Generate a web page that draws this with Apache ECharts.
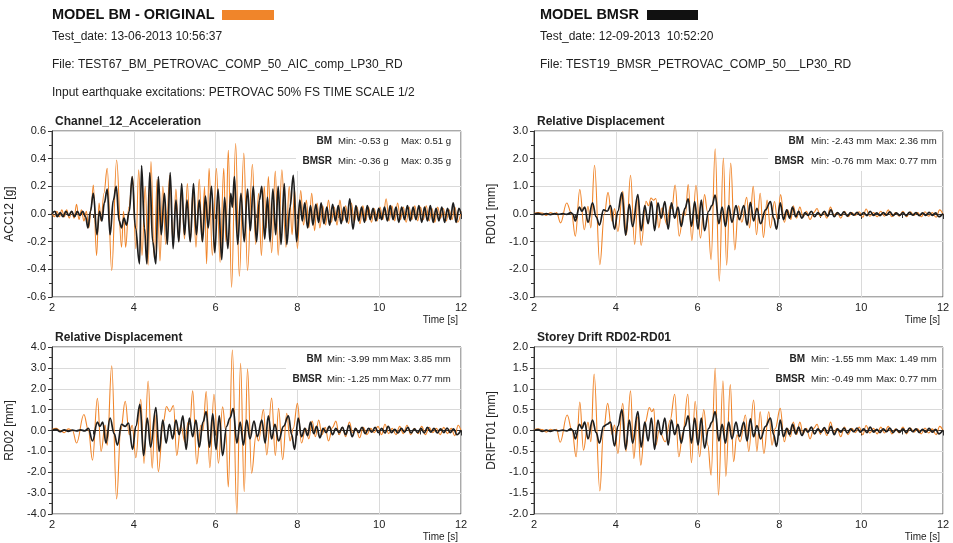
<!DOCTYPE html>
<html>
<head>
<meta charset="utf-8">
<script src="https://cdn.jsdelivr.net/npm/echarts@6/dist/echarts.min.js"></script>
<style>
  html, body { margin: 0; padding: 0; background: #fff; }
  #main { width: 953px; height: 543px; }
</style>
</head>
<body>
<div id="main"></div>
<script>
'use strict'
// turning points [time s, value]
let accBM = [[2.00,0.01],[2.06,-0.02],[2.12,0.02],[2.18,-0.02],[2.24,0.03],[2.30,-0.02],[2.36,0.03],[2.42,-0.03],[2.48,0.02],[2.54,-0.03],[2.60,0.07],[2.66,-0.04],[2.72,0.03],[2.78,-0.05],[2.84,0.02],[2.90,-0.10],[2.96,0.05],[3.01,0.21],[3.09,-0.30],[3.15,0.08],[3.20,-0.05],[3.27,0.15],[3.35,0.33],[3.46,-0.41],[3.58,0.39],[3.70,-0.24],[3.75,0.02],[3.80,-0.24],[3.88,0.05],[3.97,0.27],[4.05,-0.25],[4.12,0.32],[4.20,-0.30],[4.28,0.20],[4.35,-0.37],[4.42,0.38],[4.50,-0.32],[4.57,0.25],[4.64,-0.34],[4.71,0.20],[4.78,-0.22],[4.88,0.28],[4.96,-0.22],[5.03,0.18],[5.10,-0.20],[5.17,0.15],[5.24,-0.18],[5.31,0.22],[5.38,-0.20],[5.45,0.18],[5.52,-0.24],[5.60,0.25],[5.67,-0.20],[5.73,0.20],[5.78,-0.36],[5.84,0.33],[5.92,-0.30],[6.02,0.33],[6.11,-0.35],[6.20,0.33],[6.25,-0.20],[6.31,0.46],[6.39,-0.53],[6.49,0.51],[6.58,-0.45],[6.69,0.44],[6.78,-0.41],[6.90,0.36],[6.98,-0.22],[7.05,0.15],[7.12,-0.30],[7.19,0.20],[7.24,-0.10],[7.29,0.27],[7.37,-0.28],[7.46,0.31],[7.53,-0.30],[7.62,0.32],[7.72,-0.24],[7.80,0.20],[7.87,-0.15],[7.93,0.18],[8.00,-0.25],[8.08,0.17],[8.15,-0.08],[8.22,0.10],[8.28,-0.10],[8.35,0.15],[8.42,-0.12],[8.48,0.08],[8.55,-0.10],[8.62,0.06],[8.69,-0.08],[8.76,0.10],[8.83,-0.06],[8.90,0.05],[8.97,-0.08],[9.04,0.10],[9.11,-0.05],[9.18,0.06],[9.25,-0.07],[9.32,0.08],[9.39,-0.06],[9.46,0.05],[9.53,-0.07],[9.60,0.06],[9.67,-0.05],[9.74,0.05],[9.81,-0.06],[9.88,0.04],[9.95,-0.05],[10.02,0.05],[10.09,-0.04],[10.17,0.11],[10.24,-0.05],[10.31,0.06],[10.38,-0.05],[10.45,0.08],[10.52,-0.04],[10.59,0.05],[10.66,-0.06],[10.73,0.05],[10.80,-0.04],[10.87,0.06],[10.94,-0.05],[11.01,0.05],[11.08,-0.04],[11.15,0.06],[11.22,-0.05],[11.29,0.04],[11.36,-0.06],[11.43,0.05],[11.50,-0.03],[11.57,0.04],[11.64,-0.05],[11.71,0.03],[11.78,-0.04],[11.85,0.05],[11.92,-0.06],[12.00,0.02]];
let accBMSR = [[2.00,0.00],[2.07,0.02],[2.13,-0.02],[2.20,0.01],[2.27,-0.02],[2.34,0.02],[2.41,-0.01],[2.48,0.02],[2.55,-0.02],[2.62,0.02],[2.68,-0.01],[2.75,0.02],[2.82,-0.02],[2.88,-0.10],[2.94,0.02],[3.01,0.15],[3.10,-0.15],[3.16,0.02],[3.22,-0.05],[3.28,0.08],[3.35,0.18],[3.42,-0.15],[3.50,0.10],[3.57,0.20],[3.64,-0.05],[3.70,-0.10],[3.76,-0.03],[3.82,-0.08],[3.89,0.02],[3.96,0.27],[4.04,-0.10],[4.14,-0.36],[4.19,0.35],[4.26,-0.10],[4.32,-0.36],[4.39,0.30],[4.46,-0.20],[4.54,-0.36],[4.60,0.27],[4.67,-0.15],[4.75,0.15],[4.82,-0.22],[4.89,0.30],[4.96,-0.25],[5.03,0.10],[5.10,-0.20],[5.17,0.22],[5.24,-0.15],[5.30,0.10],[5.38,-0.20],[5.46,0.22],[5.53,-0.15],[5.60,0.10],[5.68,-0.20],[5.75,0.13],[5.82,-0.10],[5.90,0.20],[5.98,-0.28],[6.06,0.18],[6.15,-0.33],[6.22,0.12],[6.30,-0.25],[6.37,0.15],[6.41,0.05],[6.46,0.27],[6.54,-0.22],[6.62,0.15],[6.70,-0.20],[6.78,0.18],[6.85,-0.12],[6.92,0.20],[7.00,-0.20],[7.07,0.10],[7.13,0.20],[7.20,-0.18],[7.27,0.12],[7.33,-0.20],[7.40,0.18],[7.47,-0.15],[7.53,0.20],[7.60,-0.22],[7.68,0.22],[7.74,-0.22],[7.82,0.05],[7.90,0.28],[7.98,-0.20],[8.06,0.10],[8.12,-0.05],[8.18,0.08],[8.25,-0.10],[8.32,0.06],[8.38,-0.08],[8.45,0.07],[8.52,-0.06],[8.58,0.08],[8.65,-0.07],[8.72,0.05],[8.79,-0.08],[8.86,0.07],[8.93,-0.05],[9.00,0.06],[9.07,-0.07],[9.14,0.05],[9.21,-0.06],[9.28,0.11],[9.36,-0.11],[9.43,0.06],[9.50,-0.05],[9.57,0.05],[9.64,-0.06],[9.71,0.06],[9.78,-0.04],[9.85,0.04],[9.92,-0.05],[9.99,0.04],[10.06,-0.04],[10.13,0.05],[10.20,-0.05],[10.27,0.06],[10.34,-0.04],[10.41,0.05],[10.48,-0.06],[10.55,0.05],[10.62,-0.04],[10.69,0.06],[10.76,-0.05],[10.83,0.05],[10.90,-0.04],[10.97,0.06],[11.04,-0.06],[11.11,0.05],[11.18,-0.05],[11.25,0.06],[11.32,-0.06],[11.39,0.04],[11.46,-0.05],[11.53,0.05],[11.60,-0.06],[11.67,0.04],[11.74,-0.04],[11.81,0.08],[11.88,-0.06],[11.95,0.04],[12.00,0.00]];

let rd01BM = [[2.00,0.02],[2.10,0.05],[2.20,0.03],[2.30,-0.05],[2.40,0.05],[2.50,0.00],[2.55,0.05],[2.65,-0.32],[2.80,0.40],[2.92,0.00],[3.01,-0.80],[3.12,0.88],[3.23,-0.57],[3.32,0.28],[3.39,-0.50],[3.48,1.76],[3.61,-1.83],[3.72,0.00],[3.81,0.78],[3.91,-0.27],[3.97,0.20],[4.05,-0.63],[4.17,0.82],[4.26,-0.75],[4.36,1.40],[4.46,-1.10],[4.54,0.52],[4.62,-1.13],[4.74,0.46],[4.80,0.30],[4.86,0.58],[4.92,0.50],[4.98,0.56],[5.05,-0.50],[5.13,0.22],[5.25,-0.38],[5.33,0.30],[5.37,0.20],[5.45,1.05],[5.55,-0.80],[5.66,0.10],[5.70,-0.05],[5.77,1.06],[5.86,-0.96],[5.96,1.04],[6.07,-0.87],[6.17,0.70],[6.24,0.10],[6.33,-1.65],[6.43,2.36],[6.53,-2.43],[6.63,2.02],[6.71,-1.85],[6.81,1.84],[6.91,-1.30],[7.00,0.30],[7.08,-0.30],[7.20,0.60],[7.27,-0.50],[7.36,1.00],[7.44,-0.75],[7.53,0.75],[7.61,-0.85],[7.70,0.50],[7.78,-0.50],[7.88,0.45],[7.95,-0.20],[8.03,0.70],[8.12,-0.30],[8.20,0.15],[8.28,-0.20],[8.34,0.30],[8.42,-0.15],[8.50,0.25],[8.58,-0.10],[8.66,0.10],[8.75,-0.20],[8.84,0.05],[8.92,0.20],[9.00,-0.10],[9.08,0.08],[9.16,-0.15],[9.25,0.25],[9.33,-0.05],[9.41,0.05],[9.50,-0.15],[9.59,0.10],[9.68,-0.10],[9.77,0.05],[9.86,-0.05],[9.95,0.08],[10.04,-0.12],[10.12,0.18],[10.21,-0.08],[10.30,0.05],[10.39,-0.10],[10.48,0.10],[10.57,-0.08],[10.66,0.15],[10.75,-0.10],[10.84,0.05],[10.93,-0.08],[11.02,0.10],[11.11,-0.10],[11.20,0.08],[11.29,-0.05],[11.38,0.05],[11.47,-0.10],[11.56,0.08],[11.65,-0.08],[11.74,0.05],[11.83,-0.12],[11.92,0.15],[12.00,-0.02]];
let rd01BMSR = [[2.00,0.00],[2.10,0.02],[2.20,-0.02],[2.30,0.01],[2.40,-0.02],[2.50,0.01],[2.60,-0.01],[2.70,0.01],[2.80,-0.01],[2.90,0.05],[2.95,0.00],[3.01,-0.25],[3.11,0.25],[3.17,0.10],[3.24,0.25],[3.32,-0.30],[3.43,0.40],[3.52,-0.10],[3.60,-0.40],[3.70,0.15],[3.79,0.10],[3.87,0.30],[3.97,-0.55],[4.05,0.10],[4.15,0.77],[4.24,-0.76],[4.33,0.35],[4.41,-0.45],[4.54,0.70],[4.62,-0.60],[4.71,0.30],[4.79,-0.35],[4.87,0.45],[4.95,-0.60],[5.03,0.40],[5.11,-0.15],[5.20,0.45],[5.28,-0.55],[5.36,0.40],[5.44,-0.15],[5.52,0.25],[5.60,-0.45],[5.69,0.20],[5.77,0.55],[5.85,-0.45],[5.93,0.45],[6.01,-0.55],[6.09,0.50],[6.17,-0.60],[6.27,0.10],[6.35,0.30],[6.43,0.68],[6.52,-0.35],[6.60,0.25],[6.68,-0.45],[6.76,0.30],[6.84,-0.30],[6.94,0.30],[7.02,-0.20],[7.13,0.30],[7.21,-0.40],[7.29,0.42],[7.37,-0.25],[7.45,0.20],[7.54,-0.35],[7.66,0.15],[7.78,0.45],[7.86,-0.15],[7.93,-0.55],[8.02,0.40],[8.10,-0.20],[8.18,0.15],[8.25,-0.15],[8.32,0.25],[8.40,-0.10],[8.47,0.10],[8.55,-0.15],[8.63,0.05],[8.70,-0.05],[8.78,0.10],[8.86,-0.10],[8.94,0.05],[9.02,-0.05],[9.10,0.10],[9.18,-0.08],[9.26,0.15],[9.34,-0.10],[9.42,0.05],[9.50,-0.05],[9.58,0.08],[9.66,-0.08],[9.74,0.05],[9.82,-0.04],[9.90,0.06],[9.98,-0.05],[10.06,0.05],[10.14,-0.06],[10.22,0.10],[10.30,-0.05],[10.38,0.04],[10.46,-0.06],[10.54,0.05],[10.62,-0.04],[10.70,0.08],[10.78,-0.06],[10.86,0.04],[10.94,-0.05],[11.02,0.05],[11.10,-0.06],[11.18,0.06],[11.26,-0.04],[11.34,0.05],[11.42,-0.06],[11.50,0.04],[11.58,-0.05],[11.66,0.06],[11.74,-0.05],[11.82,0.04],[11.90,-0.10],[12.00,0.02]];

let rd02BM = [[2.00,0.05],[2.10,0.10],[2.20,0.00],[2.30,-0.10],[2.40,0.08],[2.50,0.00],[2.60,-0.60],[2.78,0.77],[2.89,0.00],[2.99,-1.42],[3.11,1.54],[3.20,-1.00],[3.30,0.26],[3.35,-0.70],[3.46,3.10],[3.58,-3.28],[3.68,0.00],[3.79,1.40],[3.89,-0.20],[3.96,0.25],[4.05,-1.30],[4.17,1.50],[4.25,-1.58],[4.35,2.37],[4.45,-1.80],[4.52,0.75],[4.60,-1.97],[4.72,0.40],[4.80,1.15],[4.88,0.90],[4.97,1.20],[5.05,-1.20],[5.15,0.25],[5.25,-0.55],[5.33,0.40],[5.37,0.30],[5.44,1.90],[5.54,-1.60],[5.64,0.25],[5.69,0.00],[5.77,1.86],[5.86,-1.78],[5.96,1.73],[6.07,-1.57],[6.17,1.14],[6.25,0.00],[6.31,-2.70],[6.41,3.85],[6.52,-3.99],[6.61,3.22],[6.70,-2.93],[6.78,2.95],[6.88,-2.05],[6.99,-0.20],[7.05,-0.50],[7.17,1.00],[7.25,-1.17],[7.37,1.55],[7.46,-1.20],[7.54,1.06],[7.64,-1.40],[7.74,0.82],[7.82,-0.50],[7.90,0.10],[8.00,1.30],[8.10,-0.60],[8.20,0.10],[8.28,-0.40],[8.36,0.45],[8.44,-0.30],[8.52,0.50],[8.60,-0.20],[8.68,0.15],[8.76,-0.50],[8.86,0.15],[8.94,0.45],[9.02,-0.20],[9.10,0.15],[9.18,-0.30],[9.27,0.40],[9.35,-0.10],[9.43,0.10],[9.52,-0.35],[9.61,0.15],[9.70,-0.20],[9.79,0.10],[9.88,-0.10],[9.97,0.20],[10.06,-0.20],[10.14,0.30],[10.23,-0.15],[10.32,0.10],[10.41,-0.20],[10.50,0.20],[10.59,-0.15],[10.68,0.25],[10.77,-0.20],[10.86,0.10],[10.95,-0.15],[11.04,0.20],[11.13,-0.20],[11.22,0.15],[11.31,-0.10],[11.40,0.10],[11.49,-0.20],[11.58,0.15],[11.67,-0.15],[11.76,0.10],[11.85,-0.25],[11.93,0.25],[12.00,0.00]];
let rd02BMSR = [[2.00,0.00],[2.10,0.05],[2.20,-0.05],[2.30,0.03],[2.40,-0.04],[2.50,0.02],[2.60,-0.02],[2.70,0.03],[2.80,-0.02],[2.89,0.10],[2.99,-0.50],[3.11,0.40],[3.17,0.20],[3.24,0.40],[3.32,-0.60],[3.42,0.60],[3.52,-0.15],[3.60,-0.70],[3.70,0.30],[3.79,0.20],[3.87,0.35],[3.97,-0.90],[4.05,0.20],[4.15,1.25],[4.24,-1.20],[4.33,0.60],[4.41,-0.80],[4.54,1.10],[4.62,-1.00],[4.71,0.50],[4.79,-0.60],[4.87,0.30],[4.95,-0.40],[5.03,0.50],[5.11,-0.20],[5.20,0.70],[5.28,-0.90],[5.36,0.60],[5.44,-0.30],[5.52,0.50],[5.60,-0.80],[5.69,0.40],[5.77,0.90],[5.85,-0.80],[5.93,0.80],[6.01,-0.90],[6.09,0.70],[6.17,-1.20],[6.27,0.20],[6.35,0.60],[6.43,1.05],[6.52,-0.60],[6.60,0.40],[6.68,-0.70],[6.76,0.50],[6.84,-0.40],[6.94,0.45],[7.02,-0.30],[7.13,0.50],[7.21,-0.60],[7.29,0.70],[7.37,-0.40],[7.45,0.30],[7.54,-0.50],[7.66,0.20],[7.78,0.70],[7.86,-0.20],[7.93,-0.90],[8.02,0.60],[8.10,-0.30],[8.18,0.10],[8.25,-0.25],[8.32,0.40],[8.40,-0.15],[8.47,0.20],[8.55,-0.35],[8.63,0.10],[8.70,-0.10],[8.78,0.20],[8.86,-0.20],[8.94,0.10],[9.02,-0.10],[9.10,0.15],[9.18,-0.20],[9.26,0.25],[9.34,-0.30],[9.42,0.10],[9.50,-0.10],[9.58,0.15],[9.66,-0.15],[9.74,0.10],[9.82,-0.08],[9.90,0.15],[9.98,-0.10],[10.06,0.10],[10.14,-0.12],[10.22,0.20],[10.30,-0.10],[10.38,0.05],[10.46,-0.12],[10.54,0.10],[10.62,-0.08],[10.70,0.15],[10.78,-0.12],[10.86,0.08],[10.94,-0.10],[11.02,0.10],[11.10,-0.12],[11.18,0.15],[11.26,-0.08],[11.34,0.10],[11.42,-0.12],[11.50,0.08],[11.58,-0.10],[11.66,0.12],[11.74,-0.10],[11.82,0.08],[11.90,-0.20],[12.00,0.02]];

let driftBM = [[2.00,0.02],[2.10,0.04],[2.20,0.02],[2.30,-0.04],[2.40,0.03],[2.50,0.00],[2.55,0.03],[2.64,-0.28],[2.81,0.37],[2.93,0.00],[3.03,-0.63],[3.12,0.68],[3.21,-0.47],[3.32,0.20],[3.39,-0.27],[3.47,1.35],[3.61,-1.45],[3.70,0.00],[3.80,0.65],[3.91,-0.10],[3.97,0.13],[4.05,-0.55],[4.17,0.65],[4.25,-0.50],[4.36,0.95],[4.44,-0.67],[4.53,0.33],[4.61,-0.83],[4.72,0.20],[4.82,0.55],[4.88,0.45],[4.93,0.52],[4.98,-0.35],[5.06,0.00],[5.21,-0.27],[5.33,0.25],[5.44,0.87],[5.54,-0.63],[5.64,-0.05],[5.76,0.87],[5.85,-0.77],[5.94,0.70],[6.05,-0.63],[6.15,0.50],[6.25,-0.35],[6.33,-1.07],[6.43,1.49],[6.51,-1.55],[6.62,1.19],[6.69,-1.10],[6.80,1.10],[6.88,-0.75],[6.96,-0.10],[7.04,-0.27],[7.17,0.37],[7.25,-0.50],[7.37,0.73],[7.45,-0.50],[7.53,0.45],[7.62,-0.55],[7.74,0.45],[7.82,-0.35],[7.90,0.05],[8.02,0.53],[8.12,-0.27],[8.20,0.05],[8.27,-0.15],[8.34,0.20],[8.42,-0.10],[8.50,0.20],[8.58,-0.08],[8.66,0.05],[8.75,-0.20],[8.84,0.05],[8.92,0.15],[9.00,-0.08],[9.08,0.05],[9.16,-0.12],[9.25,0.20],[9.33,-0.05],[9.41,0.05],[9.50,-0.15],[9.59,0.08],[9.68,-0.10],[9.77,0.05],[9.86,-0.05],[9.95,0.08],[10.04,-0.10],[10.12,0.12],[10.21,-0.06],[10.30,0.05],[10.39,-0.08],[10.48,0.08],[10.57,-0.06],[10.66,0.10],[10.75,-0.08],[10.84,0.04],[10.93,-0.06],[11.02,0.08],[11.11,-0.08],[11.20,0.06],[11.29,-0.04],[11.38,0.04],[11.47,-0.08],[11.56,0.06],[11.65,-0.06],[11.74,0.04],[11.83,-0.10],[11.92,0.10],[12.00,0.00]];
let driftBMSR = [[2.00,0.00],[2.10,0.02],[2.20,-0.02],[2.30,0.01],[2.40,-0.02],[2.50,0.01],[2.60,-0.01],[2.70,0.01],[2.80,-0.01],[2.90,0.04],[2.95,0.00],[3.01,-0.20],[3.11,0.15],[3.17,0.05],[3.24,0.20],[3.32,-0.20],[3.43,0.25],[3.52,-0.05],[3.60,-0.30],[3.70,0.10],[3.79,0.15],[3.87,0.20],[3.97,-0.37],[4.05,0.10],[4.15,0.50],[4.24,-0.45],[4.33,0.25],[4.41,-0.30],[4.54,0.45],[4.62,-0.40],[4.71,0.20],[4.79,-0.25],[4.87,0.30],[4.95,-0.45],[5.03,0.25],[5.11,-0.10],[5.20,0.30],[5.28,-0.35],[5.36,0.25],[5.44,-0.10],[5.52,0.15],[5.60,-0.30],[5.69,0.10],[5.77,0.35],[5.85,-0.30],[5.93,0.30],[6.01,-0.35],[6.09,0.30],[6.17,-0.42],[6.27,0.05],[6.35,0.20],[6.43,0.45],[6.52,-0.25],[6.60,0.15],[6.68,-0.30],[6.76,0.20],[6.84,-0.20],[6.94,0.20],[7.02,-0.15],[7.13,0.20],[7.21,-0.25],[7.29,0.28],[7.37,-0.15],[7.45,0.12],[7.54,-0.20],[7.66,0.10],[7.78,0.30],[7.86,-0.10],[7.93,-0.38],[8.02,0.25],[8.10,-0.15],[8.18,0.05],[8.25,-0.10],[8.32,0.15],[8.40,-0.08],[8.47,0.08],[8.55,-0.12],[8.63,0.04],[8.70,-0.04],[8.78,0.08],[8.86,-0.08],[8.94,0.04],[9.02,-0.04],[9.10,0.07],[9.18,-0.07],[9.26,0.10],[9.34,-0.10],[9.42,0.04],[9.50,-0.04],[9.58,0.06],[9.66,-0.06],[9.74,0.04],[9.82,-0.03],[9.90,0.06],[9.98,-0.04],[10.06,0.04],[10.14,-0.05],[10.22,0.08],[10.30,-0.04],[10.38,0.03],[10.46,-0.05],[10.54,0.04],[10.62,-0.03],[10.70,0.06],[10.78,-0.05],[10.86,0.03],[10.94,-0.04],[11.02,0.04],[11.10,-0.05],[11.18,0.06],[11.26,-0.03],[11.34,0.04],[11.42,-0.05],[11.50,0.03],[11.58,-0.04],[11.66,0.05],[11.74,-0.04],[11.82,0.03],[11.90,-0.08],[12.00,0.01]];

let panelTitles = ['Channel_12_Acceleration', 'Relative Displacement', 'Relative Displacement', 'Storey Drift RD02-RD01'];
let yNames = ['ACC12 [g]', 'RD01 [mm]', 'RD02 [mm]', 'DRIFT01 [mm]'];
let yMin = [-0.6, -3, -4, -2];
let yMax = [0.6, 3, 4, 2];
let yStep = [0.2, 1, 1, 0.5];
let bmStats = [['-0.53 g', '0.51 g'], ['-2.43 mm', '2.36 mm'], ['-3.99 mm', '3.85 mm'], ['-1.55 mm', '1.49 mm']];
let bmsrStats = [['-0.36 g', '0.35 g'], ['-0.76 mm', '0.77 mm'], ['-1.25 mm', '0.77 mm'], ['-0.49 mm', '0.77 mm']];

const ORANGE = '#f0852a', BLACK = '#1e1e1e';
const FONT = '"Liberation Sans", Arial, sans-serif';
let grids = [
	{left: 52, top: 131, width: 409, height: 166},
	{left: 534, top: 131, width: 409, height: 166},
	{left: 52, top: 347, width: 409, height: 167},
	{left: 534, top: 347, width: 409, height: 167}
];
// stats block placement: name right edge, "Min" x, "Max" x, first row offset
let statPos = [
	{name: 332, min: 338, max: 401, dy: 10},
	{name: 804, min: 811, max: 876, dy: 10},
	{name: 322, min: 327, max: 390, dy: 12},
	{name: 805, min: 811, max: 876, dy: 12}
];
let bmData = [accBM, rd01BM, rd02BM, driftBM];
let bmsrData = [accBMSR, rd01BMSR, rd02BMSR, driftBMSR];

let chart = echarts.init(document.getElementById('main'), null, {renderer: 'canvas'});

let xAxes = [], yAxes = [], series = [], graphics = [];
grids.forEach((g, i) => {
	g.show = true;
	g.borderColor = '#555';
	g.borderWidth = 1;
	g.containLabel = false;
	xAxes.push({
		type: 'value', gridIndex: i, min: 2, max: 12, interval: 2,
		axisLine: {lineStyle: {color: '#333'}},
		axisTick: {length: 5, lineStyle: {color: '#333'}},
		minorTick: {show: true, splitNumber: 2, length: 4, lineStyle: {color: '#333'}},
		splitLine: {lineStyle: {color: '#dadada'}},
		axisLabel: {color: '#222', fontSize: 11, fontFamily: FONT, margin: 5}
	});
	yAxes.push({
		type: 'value', gridIndex: i, min: yMin[i], max: yMax[i], interval: yStep[i],
		name: yNames[i], nameLocation: 'middle', nameGap: 36, nameRotate: 90,
		nameTextStyle: {color: '#222', fontSize: 12, fontFamily: FONT},
		axisLine: {show: true, lineStyle: {color: '#333'}},
		axisTick: {show: true, length: 4, lineStyle: {color: '#333'}},
		minorTick: {show: true, splitNumber: 2, length: 3, lineStyle: {color: '#333'}},
		splitLine: {lineStyle: {color: '#dadada'}},
		axisLabel: {color: '#222', fontSize: 11, fontFamily: FONT, margin: 6,
			formatter: v => v.toFixed(1)}
	});
	series.push({
		name: 'BM', type: 'line', xAxisIndex: i, yAxisIndex: i, data: bmData[i],
		showSymbol: false, smooth: 0.4, smoothMonotone: 'x', animation: false,
		lineStyle: {color: ORANGE, width: 1.1}
	});
	series.push({
		name: 'BMSR', type: 'line', xAxisIndex: i, yAxisIndex: i, data: bmsrData[i],
		showSymbol: false, smooth: 0.4, smoothMonotone: 'x', animation: false,
		lineStyle: {color: BLACK, width: 1.7}
	});

	// panel title, time label, stats box
	let right = g.left + g.width;
	graphics.push({type: 'text', x: g.left + 3, y: g.top - 9, z: 10,
		style: {text: panelTitles[i], font: 'bold 12px ' + FONT, fill: '#222', textVerticalAlign: 'middle'}});
	graphics.push({type: 'text', x: right - 3, y: g.top + g.height + 23, z: 10,
		style: {text: 'Time [s]', font: '10px ' + FONT, fill: '#222', textAlign: 'right', textVerticalAlign: 'middle'}});
	let sp = statPos[i];
	graphics.push({type: 'rect', z: 9,
		shape: {x: sp.name - 36, y: g.top + 1, width: right - sp.name + 35, height: sp.dy + 29},
		style: {fill: '#fff'}});
	let rows = [['BM', bmStats[i]], ['BMSR', bmsrStats[i]]];
	rows.forEach((r, k) => {
		let y = g.top + sp.dy + k * 20;
		graphics.push({type: 'text', x: sp.name, y: y, z: 10,
			style: {text: r[0], font: 'bold 10px ' + FONT, fill: '#222', textAlign: 'right', textVerticalAlign: 'middle'}});
		graphics.push({type: 'text', x: sp.min, y: y, z: 10,
			style: {text: 'Min: ' + r[1][0], font: '9.6px ' + FONT, fill: '#222', textVerticalAlign: 'middle'}});
		graphics.push({type: 'text', x: sp.max, y: y, z: 10,
			style: {text: 'Max: ' + r[1][1], font: '9.6px ' + FONT, fill: '#222', textVerticalAlign: 'middle'}});
	});
});

// header block
graphics.push(
	{type: 'text', x: 52, y: 15, style: {text: 'MODEL BM - ORIGINAL', font: 'bold 14.5px ' + FONT, fill: '#111', textVerticalAlign: 'middle'}},
	{type: 'rect', shape: {x: 222, y: 10, width: 52, height: 10}, style: {fill: ORANGE}},
	{type: 'text', x: 52, y: 37, style: {text: 'Test_date: 13-06-2013 10:56:37', font: '12px ' + FONT, fill: '#222', textVerticalAlign: 'middle'}},
	{type: 'text', x: 52, y: 65, style: {text: 'File: TEST67_BM_PETROVAC_COMP_50_AIC_comp_LP30_RD', font: '12px ' + FONT, fill: '#222', textVerticalAlign: 'middle'}},
	{type: 'text', x: 52, y: 93, style: {text: 'Input earthquake excitations: PETROVAC 50% FS TIME SCALE 1/2', font: '12px ' + FONT, fill: '#222', textVerticalAlign: 'middle'}},
	{type: 'text', x: 540, y: 15, style: {text: 'MODEL BMSR', font: 'bold 14.5px ' + FONT, fill: '#111', textVerticalAlign: 'middle'}},
	{type: 'rect', shape: {x: 647, y: 10, width: 51, height: 10}, style: {fill: '#111'}},
	{type: 'text', x: 540, y: 37, style: {text: 'Test_date: 12-09-2013  10:52:20', font: '12px ' + FONT, fill: '#222', textVerticalAlign: 'middle'}},
	{type: 'text', x: 540, y: 65, style: {text: 'File: TEST19_BMSR_PETROVAC_COMP_50__LP30_RD', font: '12px ' + FONT, fill: '#222', textVerticalAlign: 'middle'}}
);

chart.setOption({
	animation: false,
	grid: grids,
	xAxis: xAxes,
	yAxis: yAxes,
	series: series,
	graphic: graphics
});
</script>
</body>
</html>
